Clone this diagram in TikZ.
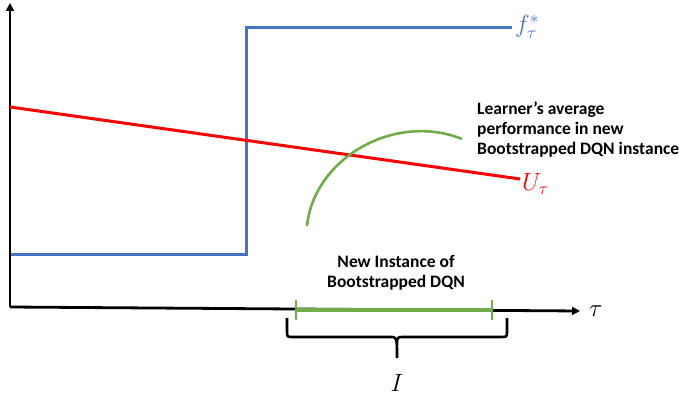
\documentclass[tikz,border=0pt]{standalone}
\usepackage{fontspec}
\setmainfont{Carlito}
\usetikzlibrary{arrows.meta}
\definecolor{myblue}{HTML}{4472C4}
\definecolor{mygreen}{HTML}{70AD47}
\definecolor{myred}{HTML}{FF0000}
\tikzset{
  axis/.style={line width=2.8pt, -{Triangle[length=8pt,width=8pt]}},
  lbl/.style={font=\bfseries\fontsize{17.5}{20}\selectfont, align=left, inner sep=0pt},
  mathlbl/.style={font=\fontsize{25}{25}\selectfont, inner sep=0pt}
}
\begin{document}
\begin{tikzpicture}[x=1pt,y=-1pt]
\useasboundingbox (0,0) rectangle (679,398);
% axes
\coordinate (o) at (10,307);
\coordinate (ytip) at (10,3);
\coordinate (xtip) at (580,311);
\draw[axis] (o) -- (ytip);
\draw[axis] (o) -- (xtip);
\node[mathlbl, anchor=west] (tau) at (589,311) {$\tau$};
% blue step
\coordinate (b0) at (11,254);
\coordinate (b1) at (246,254);
\coordinate (b2) at (246,28);
\coordinate (b3) at (512,28);
\draw[myblue, line width=3pt] (b0) -- (b1) -- (b2) -- (b3);
\node[mathlbl, anchor=west, text=myblue] (f) at (515,27) {$f^{*}_{\tau}$};
% red line
\coordinate (r0) at (10,107);
\coordinate (r1) at (520,179);
\draw[myred, line width=3pt] (r0) -- (r1);
\node[mathlbl, anchor=west, text=myred] (U) at (522,184) {$U_{\tau}$};
% green curve
\coordinate (g0) at (307,226);
\coordinate (g1) at (462,139);
\draw[mygreen, line width=2.6pt] (g0) .. controls (314,158) and (395,112) .. (g1);
\node[lbl, anchor=west] (learner) at (477,130) {Learner’s average\\performance in new\\Bootstrapped DQN instance};
% green bar
\coordinate (s0) at (296,310);
\coordinate (s1) at (492,310);
\draw[mygreen, line width=3.5pt] (s0) -- (s1);
\draw[mygreen, line width=2.2pt] ([yshift=-10]s0) -- ([yshift=10]s0);
\draw[mygreen, line width=2.2pt] ([yshift=-10]s1) -- ([yshift=10]s1);
\node[lbl, align=center] (newinst) at (396,273) {New Instance of\\Bootstrapped DQN};
% brace
\coordinate (bl) at (287,318);
\coordinate (br) at (507,318);
\coordinate (bm) at (397,358);
\draw[line width=2.6pt, line join=round]
  (bl) -- (287,331) .. controls (287,337) .. (293,337) -- (390,337)
  .. controls (397,337) .. (bm)
  (397,345) .. controls (397,337) .. (404,337) -- (501,337)
  .. controls (507,337) .. (507,331) -- (br);
\node[mathlbl] (I) at (397,383) {$I$};
\end{tikzpicture}
\end{document}
